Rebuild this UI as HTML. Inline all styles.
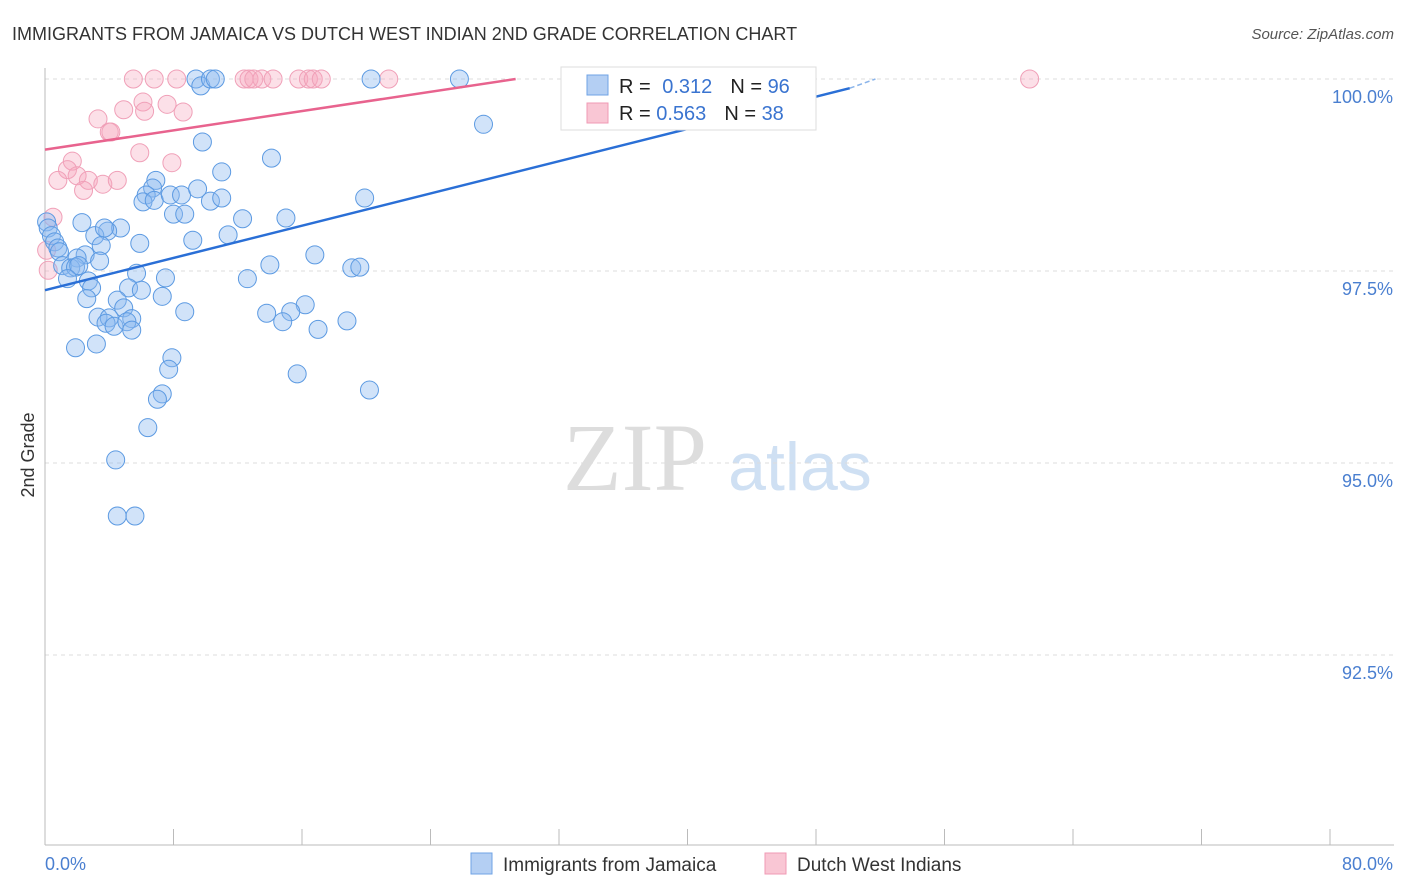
<!DOCTYPE html>
<html><head><meta charset="utf-8"><style>
body{margin:0;background:#fff;font-family:"Liberation Sans",sans-serif;}
#wrap{position:relative;width:1406px;height:892px;overflow:hidden}
</style></head><body>
<div id="wrap">
<svg id="svg" width="1406" height="892" xmlns="http://www.w3.org/2000/svg">
<text x="12" y="40" font-size="18" fill="#333">IMMIGRANTS FROM JAMAICA VS DUTCH WEST INDIAN 2ND GRADE CORRELATION CHART</text>
<text x="1394" y="39" font-size="15" fill="#555" font-style="italic" text-anchor="end">Source: ZipAtlas.com</text>
<text x="635" y="490" font-size="96" fill="#ddd" font-family="Liberation Serif,serif" text-anchor="middle">ZIP</text>
<text x="800" y="490" font-size="68" fill="#cfe0f3" text-anchor="middle">atlas</text>
<g id="grid"></g><g id="axes"></g><g id="pts"></g><g id="trend"></g>
<text transform="translate(34,455) rotate(-90)" font-size="18" fill="#333" text-anchor="middle">2nd Grade</text>
<g>
<rect x="561" y="67" width="255" height="63" fill="#fff" stroke="#ddd"/>
<rect x="587" y="75" width="21" height="20" fill="#b4cff3" stroke="#6fa3e6"/>
<rect x="587" y="103" width="21" height="20" fill="#f9c6d4" stroke="#f09ab4"/>
<text x="619" y="93" font-size="20" fill="#222">R = <tspan fill="#3a74d0" dx="6">0.312</tspan><tspan dx="18" fill="#222">N = </tspan><tspan fill="#3a74d0">96</tspan></text>
<text x="619" y="120" font-size="20" fill="#222">R = <tspan fill="#3a74d0">0.563</tspan><tspan dx="18" fill="#222">N = </tspan><tspan fill="#3a74d0">38</tspan></text>
</g>
<g>
<rect x="471" y="853" width="21" height="21" fill="#b4cff3" stroke="#6fa3e6"/>
<text x="503" y="871" font-size="19" fill="#333">Immigrants from Jamaica</text>
<rect x="765" y="853" width="21" height="21" fill="#f9c6d4" stroke="#f09ab4"/>
<text x="797" y="871" font-size="19" fill="#333">Dutch West Indians</text>
</g>
</svg>
</div>
<script>
const blueX=[9.4,9.7,10.3,10.6,20.3,25.8,42.7,27.3,9.8,14.1,11.0,6.9,6.7,6.3,6.1,6.8,7.8,8.5,9.5,10.3,11.0,19.9,8.0,8.7,12.3,15.0,2.3,4.7,3.9,3.1,3.7,11.4,9.2,5.9,0.1,0.2,0.4,0.6,0.8,0.9,3.5,2.5,2.0,3.4,16.8,1.1,1.6,1.9,2.1,14.0,19.1,19.6,5.7,7.5,12.6,1.4,2.7,2.9,5.2,6.0,7.3,4.5,2.6,16.2,4.9,8.7,13.8,15.3,3.3,4.0,5.4,3.8,4.3,5.1,5.4,14.8,17.0,18.8,1.9,3.2,7.9,7.7,15.7,20.2,7.3,7.0,6.4,4.4,4.5,5.6];
const blueY=[100,99.91,100,100,100,100,100,99.41,99.18,98.97,98.79,98.68,98.58,98.49,98.40,98.42,98.49,98.49,98.57,98.41,98.45,98.45,98.24,98.24,98.18,98.19,98.13,98.06,98.02,97.96,98.06,97.97,97.90,97.86,98.14,98.06,97.96,97.88,97.80,97.75,97.83,97.71,97.67,97.63,97.71,97.57,97.54,97.55,97.57,97.58,97.54,97.55,97.47,97.41,97.40,97.40,97.37,97.28,97.28,97.25,97.17,97.12,97.14,97.06,97.02,96.97,96.95,96.97,96.90,96.89,96.88,96.82,96.78,96.84,96.73,96.84,96.74,96.85,96.50,96.55,96.37,96.22,96.16,95.95,95.90,95.83,95.46,95.04,94.31,94.31];
const pinkX=[5.5,6.8,8.2,12.4,12.7,13.0,13.5,14.2,15.8,16.4,16.7,17.2,21.4,61.3,6.1,4.9,6.2,8.6,7.6,3.3,4.0,4.1,5.9,1.7,7.9,1.4,0.8,2.0,2.7,2.4,3.6,4.5,0.5,0.2,0.1];
const pinkY=[100,100,100,100,100,100,100,100,100,100,100,100,100,100,99.70,99.60,99.58,99.57,99.67,99.48,99.31,99.31,99.04,98.93,98.91,98.82,98.68,98.74,98.68,98.55,98.63,98.68,98.20,97.51,97.77];
const yTicks=[100,97.5,95,92.5];
const yTickLabels=["100.0%","97.5%","95.0%","92.5%"];
const xTicks=[0,8,16,24,32,40,48,56,64,72,80];
const xLabels=["0.0%","80.0%"];
const blueTrend=[[0,97.25],[50.1,99.88]];
const blueTrendDash=[[50.1,99.88],[51.7,100]];
const pinkTrend=[[0,99.08],[29.3,100]];
const sx=v=>45+v/80*1285;
const sy=v=>79+(100-v)*76.8;
const NS="http://www.w3.org/2000/svg";
function mk(tag,attrs,parent){const e=document.createElementNS(NS,tag);for(const k in attrs)e.setAttribute(k,attrs[k]);document.getElementById(parent).appendChild(e);return e;}
yTicks.forEach((t,i)=>{
 const l=mk('line',{x1:45,x2:1394,y1:sy(t),y2:sy(t),stroke:'#ddd','stroke-dasharray':'4,4'},'grid');
 
 
 const tx=mk('text',{x:1393,y:sy(t)+24,'font-size':18,fill:'#4a7fd0','text-anchor':'end'},'grid');
 tx.textContent=yTickLabels[i];
 
 
});
const ax=mk('line',{x1:45,x2:45,y1:68,y2:845,stroke:'#bbb'},'axes');


const bx=mk('line',{x1:45,x2:1394,y1:845,y2:845,stroke:'#bbb'},'axes');


xTicks.forEach(t=>{
 const l=mk('line',{x1:sx(t),x2:sx(t),y1:829,y2:845,stroke:'#bbb'},'axes');
 
 
});
const xl0=mk('text',{x:45,y:870,'font-size':18,fill:'#4a7fd0'},'axes');
xl0.textContent=xLabels[0];


const xl1=mk('text',{x:1393,y:870,'font-size':18,fill:'#4a7fd0','text-anchor':'end'},'axes');
xl1.textContent=xLabels[1];


pinkX.forEach((x,i)=>{
 const c=mk('circle',{cx:sx(x),cy:sy(pinkY[i]),r:9,fill:'rgba(245,165,190,0.35)',stroke:'#f0a0b8','stroke-width':1},'pts');
 
 
});
blueX.forEach((x,i)=>{
 const c=mk('circle',{cx:sx(x),cy:sy(blueY[i]),r:9,fill:'rgba(140,185,240,0.4)',stroke:'#5c9ae2','stroke-width':1},'pts');
 
 
});
const bt=mk('line',{x1:sx(blueTrend[0][0]),y1:sy(blueTrend[0][1]),x2:sx(blueTrend[1][0]),y2:sy(blueTrend[1][1]),stroke:'#2a6fd6','stroke-width':2.5},'trend');


const bd=mk('line',{x1:sx(blueTrendDash[0][0]),y1:sy(blueTrendDash[0][1]),x2:sx(blueTrendDash[1][0]),y2:sy(blueTrendDash[1][1]),stroke:'#8ab4ea','stroke-width':1.5,'stroke-dasharray':'5,3'},'trend');


const pt=mk('line',{x1:sx(pinkTrend[0][0]),y1:sy(pinkTrend[0][1]),x2:sx(pinkTrend[1][0]),y2:sy(pinkTrend[1][1]),stroke:'#e8638e','stroke-width':2.5},'trend');


</script>
</body></html>
